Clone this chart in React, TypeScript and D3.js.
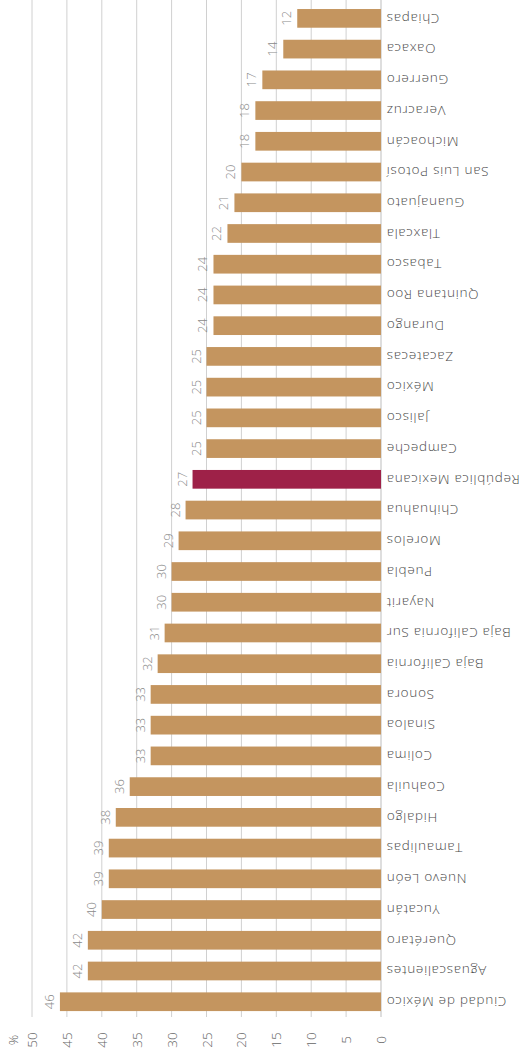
import React from "react";
import * as d3 from "d3";

const categories = [
  "Chiapas", "Oaxaca", "Guerrero", "Veracruz", "Michoacán", "San Luis Potosí",
  "Guanajuato", "Tlaxcala", "Tabasco", "Quintana Roo", "Durango", "Zacatecas",
  "México", "Jalisco", "Campeche", "República Mexicana", "Chihuahua", "Morelos",
  "Puebla", "Nayarit", "Baja California Sur", "Baja California", "Sonora",
  "Sinaloa", "Colima", "Coahuila", "Hidalgo", "Tamaulipas", "Nuevo León",
  "Yucatán", "Querétaro", "Aguascalientes", "Ciudad de México",
];
const values = [
  12, 14, 17, 18, 18, 20, 21, 22, 24, 24, 24, 25, 25, 25, 25, 27, 28, 29, 30,
  30, 31, 32, 33, 33, 33, 36, 38, 39, 39, 40, 42, 42, 46,
];
const highlight = "República Mexicana";
const ticks = [0, 5, 10, 15, 20, 25, 30, 35, 40, 45, 50];
const unitLabel = "%";

const W = 519;
const H = 1052;
const FONT = "'Open Sans', Lato, sans-serif";

export default function App() {
  const x = d3.scaleLinear().domain([0, 50]).range([381, 32]);
  const y = d3
    .scaleBand<string>()
    .domain(categories)
    .range([3, 1017.1])
    .paddingInner(0.3915)
    .paddingOuter(0.196);
  const gridBottom = 1017;
  return (
    <svg
      width={W}
      height={H}
      style={{ position: "absolute", left: 0, top: 0, background: "#fff" }}
      fontFamily={FONT}
    >
      {ticks.map((t) => (
        <line
          key={"g" + t}
          x1={x(t)}
          x2={x(t)}
          y1={0}
          y2={gridBottom}
          stroke={t === 0 ? "#bdbdbd" : "#d0d0d0"}
          strokeWidth={1}
        />
      ))}
      {categories.map((c, i) => {
        const yy = y(c)!;
        const bw = y.bandwidth();
        const cy = yy + bw / 2;
        const v = values[i];
        return (
          <g key={c}>
            <rect
              x={x(v)}
              y={yy}
              width={x(0) - x(v)}
              height={bw}
              fill={c === highlight ? "#9E2148" : "#C4955F"}
            />
            <text
              transform={`translate(${x(v) - 6},${cy}) rotate(-90)`}
              textAnchor="middle"
              fontSize={13}
              fontWeight={300}
              fill="#8a8a8a"
            >
              {v}
            </text>
            <text
              transform={`translate(386,${cy}) rotate(180)`}
              textAnchor="end"
              dy="0.35em"
              fontSize={13.5}
              fontWeight={300}
              letterSpacing={0.75}
              fill="#4a4a4a"
            >
              {c}
            </text>
          </g>
        );
      })}
      {ticks.map((t) => (
        <text
          key={"t" + t}
          transform={`translate(${x(t) + 5},1040) rotate(-90)`}
          textAnchor="middle"
          fontSize={13.5}
          fontWeight={300}
          fill="#666"
        >
          {t}
        </text>
      ))}
      <text
        transform={`translate(18,1040) rotate(-90)`}
        textAnchor="middle"
        fontSize={13}
        fontWeight={300}
        fill="#666"
      >
        {unitLabel}
      </text>
    </svg>
  );
}
